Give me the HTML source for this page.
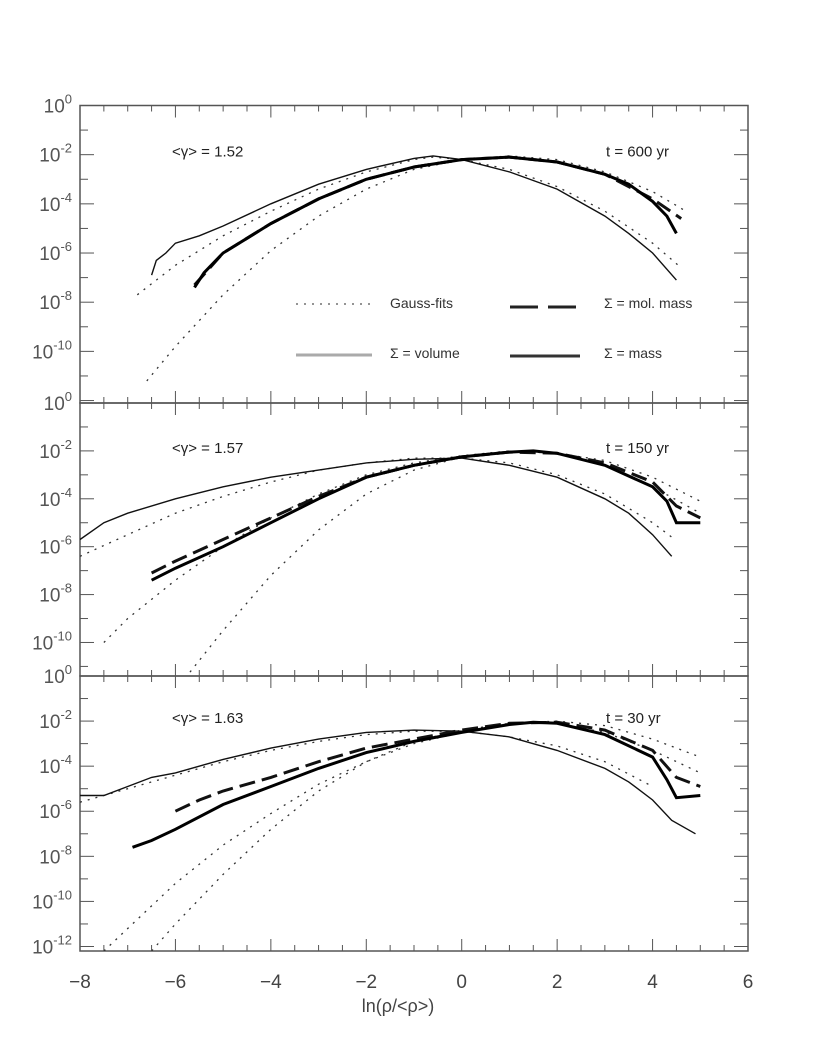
<!DOCTYPE html>
<html><head><meta charset="utf-8"><style>
body{margin:0;background:#fff}
svg{display:block;font-family:"Liberation Sans",sans-serif}
</style></head><body>
<svg id="c" width="830" height="1058" viewBox="0 0 830 1058"></svg>
<script>
// x-axis ticks
const xTicks=[-8,-6,-4,-2,0,2,4,6];
// panel metadata
const panelGamma=["1.52","1.57","1.63"];
const panelTime=["600","150","30"];
// Panel 1 (t=600) series: [ln rho, log10 value]
const p1Volume=[[-6.5,-6.9],[-6.4,-6.3],[-6.2,-6.0],[-6,-5.6],[-5.5,-5.3],[-5,-4.9],[-4,-4.0],[-3,-3.2],[-2,-2.6],[-1,-2.15],[-0.6,-2.05],[0,-2.2],[1,-2.7],[2,-3.4],[3,-4.5],[3.5,-5.2],[4,-6.0],[4.5,-7.1]];
const p1Mass=[[-5.6,-7.4],[-5.4,-6.8],[-5,-6.0],[-4.5,-5.4],[-4,-4.8],[-3,-3.8],[-2,-3.0],[-1,-2.5],[0,-2.2],[1,-2.1],[2,-2.3],[3,-2.8],[3.5,-3.2],[4,-3.9],[4.3,-4.5],[4.5,-5.2]];
const p1MolMass=[[-5.6,-7.3],[-5,-6.0],[-4,-4.8],[-3,-3.8],[-2,-3.0],[-1,-2.5],[0,-2.2],[1,-2.1],[2,-2.3],[3,-2.8],[4,-3.8],[4.6,-4.6]];
const p1GaussV=[[-6.8,-7.7],[-6,-6.5],[-5,-5.3],[-4,-4.3],[-3,-3.4],[-2,-2.7],[-1,-2.2],[-0.6,-2.1],[0,-2.2],[1,-2.6],[2,-3.3],[3,-4.3],[4,-5.6],[4.6,-6.6]];
const p1GaussM=[[-6.6,-11.2],[-6,-9.8],[-5,-7.7],[-4,-5.9],[-3,-4.5],[-2,-3.4],[-1,-2.6],[0,-2.2],[1,-2.05],[2,-2.2],[3,-2.7],[4,-3.5],[4.7,-4.3]];
// Panel 2 (t=150)
const p2Volume=[[-8,-5.7],[-7.5,-5.0],[-7,-4.6],[-6,-4.0],[-5,-3.5],[-4,-3.1],[-3,-2.8],[-2,-2.5],[-1,-2.35],[0,-2.3],[1,-2.6],[2,-3.1],[3,-4.0],[3.5,-4.6],[4,-5.5],[4.4,-6.4]];
const p2Mass=[[-6.5,-7.4],[-6,-6.9],[-5,-6.0],[-4,-5.0],[-3,-4.0],[-2,-3.1],[-1,-2.6],[0,-2.25],[1,-2.05],[1.5,-2.0],[2,-2.1],[3,-2.6],[4,-3.5],[4.3,-4.1],[4.5,-5.0],[5,-5.0]];
const p2MolMass=[[-6.5,-7.1],[-6,-6.6],[-5,-5.7],[-4,-4.8],[-3,-3.9],[-2,-3.1],[-1,-2.6],[0,-2.25],[1,-2.05],[2,-2.1],[3,-2.5],[4,-3.3],[4.5,-4.3],[5,-4.8]];
const p2GaussV=[[-8,-6.4],[-7,-5.5],[-6,-4.6],[-5,-3.9],[-4,-3.3],[-3,-2.8],[-2,-2.5],[-1,-2.3],[0,-2.3],[1,-2.5],[2,-3.0],[3,-3.8],[4,-5.0],[4.4,-5.6]];
const p2GaussM=[[-5.8,-11.5],[-5,-9.5],[-4,-7.2],[-3,-5.3],[-2,-3.8],[-1,-2.8],[0,-2.25],[1,-2.0],[2,-2.1],[3,-2.6],[4,-3.5],[5,-4.6]];
const p2GaussM2=[[-7.5,-10.0],[-7,-9.0],[-6,-7.4],[-5,-6.0],[-4,-4.8],[-3,-3.8],[-2,-3.0],[-1,-2.5],[0,-2.2],[1,-2.0],[2,-2.1],[3,-2.4],[4,-3.1],[5,-4.1]];
// Panel 3 (t=30)
const p3Volume=[[-8,-5.3],[-7.5,-5.3],[-7,-4.9],[-6.5,-4.5],[-6,-4.3],[-5,-3.7],[-4,-3.2],[-3,-2.8],[-2,-2.5],[-1,-2.4],[0,-2.45],[1,-2.7],[2,-3.3],[3,-4.1],[3.5,-4.7],[4,-5.5],[4.4,-6.4],[4.9,-7.0]];
const p3Mass=[[-6.9,-7.6],[-6.5,-7.3],[-6,-6.8],[-5,-5.7],[-4,-4.9],[-3,-4.1],[-2,-3.4],[-1,-2.9],[0,-2.5],[1,-2.15],[1.5,-2.05],[2,-2.1],[3,-2.6],[4,-3.6],[4.3,-4.6],[4.5,-5.4],[5,-5.3]];
const p3MolMass=[[-6.0,-6.0],[-5.5,-5.5],[-5,-5.1],[-4,-4.5],[-3,-3.8],[-2,-3.2],[-1,-2.8],[0,-2.4],[1,-2.1],[2,-2.05],[3,-2.4],[4,-3.3],[4.5,-4.5],[5,-4.9]];
const p3GaussV=[[-8,-5.6],[-7,-5.0],[-6,-4.4],[-5,-3.8],[-4,-3.3],[-3,-2.9],[-2,-2.6],[-1,-2.45],[0,-2.45],[1,-2.7],[2,-3.1],[3,-3.8],[4,-4.9]];
const p3GaussM=[[-6.5,-12.2],[-6,-11.0],[-5,-8.8],[-4,-6.8],[-3,-5.1],[-2,-3.8],[-1,-2.9],[0,-2.4],[1,-2.1],[2,-2.1],[3,-2.5],[4,-3.3],[5,-4.3]];
const p3GaussM2=[[-7.5,-12.2],[-7,-11.2],[-6,-9.2],[-5,-7.5],[-4,-6.1],[-3,-4.8],[-2,-3.8],[-1,-3.0],[0,-2.5],[1,-2.1],[2,-2.0],[3,-2.2],[4,-2.8],[5,-3.6]];

const svg=document.getElementById('c');
const NS='http://www.w3.org/2000/svg';
const X0=80,X1=748;
const sx=v=>X0+(v+8)/14*(X1-X0);
const panels=[
 {top:105.5,bot:403,lo:-12.1,minLab:-10,series:[p1GaussV,p1GaussM],vol:p1Volume,mass:p1Mass,mol:p1MolMass},
 {top:403,bot:676,lo:-11.4,minLab:-10,series:[p2GaussV,p2GaussM,p2GaussM2],vol:p2Volume,mass:p2Mass,mol:p2MolMass},
 {top:676,bot:951,lo:-12.2,minLab:-12,series:[p3GaussV,p3GaussM,p3GaussM2],vol:p3Volume,mass:p3Mass,mol:p3MolMass}
];
function mk(tag,attrs,parent){const e=document.createElementNS(NS,tag);for(const k in attrs)e.setAttribute(k,attrs[k]);(parent||svg).appendChild(e);return e;}
function pathOf(arr,sy){return arr.map((p,i)=>(i?'L':'M')+sx(p[0]).toFixed(1)+','+sy(p[1]).toFixed(1)).join(' ');}

panels.forEach((P,pi)=>{
 const sy=v=>P.top+(0-v)/(0-P.lo)*(P.bot-P.top);
 const g=mk('g',{});
 
 
 const fr=mk('rect',{x:X0,y:P.top,width:X1-X0,height:P.bot-P.top,fill:'none',stroke:'#555','stroke-width':1.5},g);
 
 
 for(let d=0;d>=Math.ceil(P.lo);d--){
  const y=sy(d);const len=d%2===0?14:8;
  mk('line',{x1:X0,x2:X0+len,y1:y,y2:y,stroke:'#555','stroke-width':1},g);
  mk('line',{x1:X1,x2:X1-len,y1:y,y2:y,stroke:'#555','stroke-width':1},g);
  if(d%2===0 && d>=P.minLab){
   const t=mk('text',{x:72,y:y+7,'text-anchor':'end','font-size':19,fill:'#555'},g);
   
   
   t.appendChild(document.createTextNode('10'));
   const s=mk('tspan',{dy:-9,'font-size':13},t);s.textContent=String(d);
  }
 }
 for(let v=-8;v<=6;v+=0.5){
  const x=sx(v);const len=(v%2===0)?12:6;
  mk('line',{x1:x,x2:x,y1:P.bot,y2:P.bot-len,stroke:'#555','stroke-width':1},g);
  mk('line',{x1:x,x2:x,y1:P.top,y2:P.top+len,stroke:'#555','stroke-width':1},g);
 }
 const cp=mk('clipPath',{id:'cp'+pi},g);
 mk('rect',{x:X0,y:P.top,width:X1-X0,height:P.bot-P.top},cp);
 const cg=mk('g',{'clip-path':'url(#cp'+pi+')'},g);
 P.series.forEach(s=>{
  const e=mk('path',{d:pathOf(s,sy),fill:'none',stroke:'#333','stroke-width':1.3,'stroke-dasharray':'2 6'},cg);
  
  
 });
 const v=mk('path',{d:pathOf(P.vol,sy),fill:'none',stroke:'#111','stroke-width':1.4},cg);
 
 
 const m2=mk('path',{d:pathOf(P.mol,sy),fill:'none',stroke:'#111','stroke-width':3,'stroke-dasharray':'16 7'},cg);
 
 
 const m=mk('path',{d:pathOf(P.mass,sy),fill:'none',stroke:'#000','stroke-width':3},cg);
 
 
 const gl=mk('text',{x:172,y:sy(-2)+2,'font-size':15,fill:'#222'},g);
 
 
 gl.textContent='<γ> = '+panelGamma[pi];
 const tl=mk('text',{x:606,y:sy(-2)+2,'font-size':15,fill:'#222'},g);
 
 
 tl.textContent='t = '+panelTime[pi]+' yr';
});
xTicks.forEach(v=>{
 const t=mk('text',{x:sx(v),y:988,'text-anchor':'middle','font-size':19,fill:'#444'});
 
 
 t.textContent=(v<0?'−':'')+Math.abs(v);
});
const xt=mk('text',{x:398,y:1012,'text-anchor':'middle','font-size':18,fill:'#444'});


xt.textContent='ln(ρ/<ρ>)';
const lg=mk('g',{});


mk('line',{x1:296,x2:372,y1:304,y2:304,stroke:'#555','stroke-width':1.3,'stroke-dasharray':'2 6'},lg);
let t1=mk('text',{x:390,y:308,'font-size':14,fill:'#333'},lg);t1.textContent='Gauss-fits';
mk('line',{x1:510,x2:580,y1:307,y2:307,stroke:'#222','stroke-width':3,'stroke-dasharray':'28 10'},lg);
let t2=mk('text',{x:604,y:308,'font-size':14,fill:'#333'},lg);t2.textContent='Σ = mol. mass';
mk('line',{x1:296,x2:372,y1:355,y2:355,stroke:'#aaa','stroke-width':3},lg);
let t3=mk('text',{x:390,y:358,'font-size':14,fill:'#333'},lg);t3.textContent='Σ = volume';
mk('line',{x1:510,x2:580,y1:356,y2:356,stroke:'#333','stroke-width':3},lg);
let t4=mk('text',{x:604,y:358,'font-size':14,fill:'#333'},lg);t4.textContent='Σ = mass';
</script>
</body></html>
